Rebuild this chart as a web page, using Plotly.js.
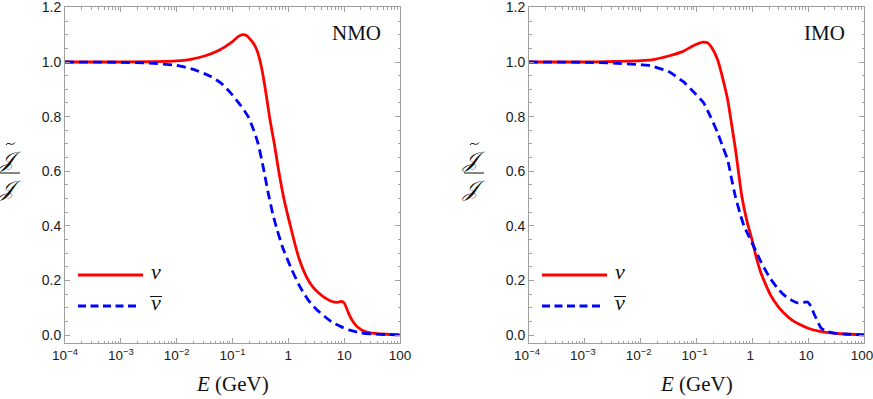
<!DOCTYPE html>
<html>
<head>
<meta charset="utf-8">
<script src="https://cdn.plot.ly/plotly-3.0.1.min.js"></script>
<style>html,body{margin:0;padding:0;background:#fff;}#chart{width:873px;height:399px;}</style>
</head>
<body>
<div id="chart"></div>
<script>
// ---- Data (log10 of energy in GeV, and flux ratio) ----
const nmoNuLogE  = [-4,-3,-2.5,-2,-1.75,-1.5,-1.25,-1.0,-0.9,-0.82,-0.75,-0.68,-0.6,-0.54,-0.47,-0.4,-0.33,-0.25,-0.18,-0.08,0.0,0.11,0.2,0.32,0.43,0.54,0.65,0.77,0.88,0.95,1.0,1.04,1.09,1.14,1.22,1.32,1.45,1.55,1.75,2];
const nmoNuVal   = [1.0,1.0,1.001,1.004,1.01,1.022,1.042,1.075,1.093,1.10,1.097,1.083,1.06,1.03,0.97,0.885,0.79,0.70,0.61,0.50,0.43,0.34,0.275,0.215,0.178,0.155,0.137,0.124,0.12,0.123,0.118,0.10,0.075,0.055,0.033,0.018,0.009,0.006,0.003,0.001];
const nmoNubLogE = [-4,-3,-2.5,-2,-1.7,-1.4,-1.2,-1.03,-0.85,-0.72,-0.62,-0.54,-0.45,-0.36,-0.28,-0.2,-0.1,0.05,0.2,0.35,0.5,0.65,0.8,0.95,1.1,1.3,1.5,1.75,2];
const nmoNubVal  = [1.0,0.999,0.996,0.988,0.973,0.948,0.922,0.886,0.84,0.80,0.75,0.70,0.615,0.52,0.445,0.385,0.32,0.245,0.18,0.13,0.095,0.068,0.045,0.03,0.018,0.008,0.004,0.002,0.001];

const imoNuLogE  = [-4,-3,-2.5,-2,-1.75,-1.5,-1.25,-1.1,-1.0,-0.89,-0.8,-0.72,-0.62,-0.53,-0.44,-0.37,-0.3,-0.25,-0.19,-0.1,0.0,0.07,0.15,0.25,0.33,0.45,0.56,0.7,0.87,1.0,1.17,1.4,1.64,2];
const imoNuVal   = [1.0,1.0,1.002,1.005,1.01,1.022,1.038,1.055,1.065,1.073,1.07,1.05,1.007,0.94,0.86,0.77,0.678,0.60,0.51,0.42,0.345,0.285,0.23,0.18,0.145,0.108,0.082,0.057,0.037,0.025,0.015,0.008,0.004,0.001];
const imoNubLogE = [-4,-3,-2.5,-2,-1.83,-1.5,-1.23,-1.05,-0.87,-0.75,-0.62,-0.53,-0.44,-0.37,-0.3,-0.22,-0.15,-0.07,0.0,0.07,0.15,0.25,0.33,0.45,0.56,0.7,0.81,0.9,0.99,1.05,1.1,1.17,1.23,1.33,1.46,1.7,2];
const imoNubVal  = [1.0,0.999,0.996,0.99,0.987,0.965,0.927,0.89,0.85,0.80,0.74,0.69,0.64,0.57,0.505,0.445,0.40,0.365,0.335,0.305,0.27,0.232,0.205,0.172,0.148,0.128,0.118,0.119,0.121,0.105,0.08,0.05,0.026,0.014,0.007,0.003,0.001];

const xTickVals = [1e-4,1e-3,1e-2,1e-1,1,10,100];
const xTickText = ['10<sup>−4</sup>','10<sup>−3</sup>','10<sup>−2</sup>','10<sup>−1</sup>','1','10','100'];
const yTickVals = [0,0.2,0.4,0.6,0.8,1.0,1.2];
const yTickText = ['0.0','0.2','0.4','0.6','0.8','1.0','1.2'];
const panelLabels = ['NMO','IMO'];
const legendLabels = ['<i>ν</i>','<i>ν</i>'];

// ---- build ----
const W = 873, H = 399;
const px = v => v / W;
const py = v => 1 - v / H;
const toE = a => a.map(v => Math.pow(10, v));

const RED = '#ff0000', BLUE = '#0000ff';
const redLine = {color: RED, width: 2.8, shape: 'spline', smoothing: 0.5};
const blueLine = {color: BLUE, width: 2.8, dash: '9px,5px', shape: 'spline', smoothing: 0.5};

const traces = [
  {x: toE(nmoNuLogE), y: nmoNuVal, xaxis: 'x', yaxis: 'y', mode: 'lines', line: redLine, showlegend: false, hoverinfo: 'skip'},
  {x: toE(nmoNubLogE), y: nmoNubVal, xaxis: 'x', yaxis: 'y', mode: 'lines', line: blueLine, showlegend: false, hoverinfo: 'skip'},
  {x: toE(imoNuLogE), y: imoNuVal, xaxis: 'x2', yaxis: 'y2', mode: 'lines', line: redLine, showlegend: false, hoverinfo: 'skip'},
  {x: toE(imoNubLogE), y: imoNubVal, xaxis: 'x2', yaxis: 'y2', mode: 'lines', line: blueLine, showlegend: false, hoverinfo: 'skip'}
];

const minorX = [];
for (let d = -4; d < 2; d++) for (let k = 2; k <= 9; k++) minorX.push(k * Math.pow(10, d));

const AX = '#a0a0a0';
const tickFont = {family: 'Liberation Sans, Arial, sans-serif', size: 14, color: '#1a1a1a'};
const xTickFont = {family: 'Liberation Sans, Arial, sans-serif', size: 13.5, color: '#1a1a1a'};
function xAxis(domain, anchor, shift) {
  return {
    type: 'log', range: [-4, 2], domain: domain, anchor: anchor,
    showline: true, linecolor: AX, linewidth: 1, mirror: 'allticks',
    ticks: 'inside', ticklen: 5, tickcolor: AX, tickwidth: 1,
    tickmode: 'array', tickvals: xTickVals, ticktext: xTickText,
    tickfont: xTickFont, ticklabeloverflow: 'allow', ticklabelshift: shift,
    showgrid: false, zeroline: false, fixedrange: true,
    minor: {ticks: 'inside', ticklen: 2.5, tickcolor: AX, tickwidth: 1, tickmode: 'array', tickvals: minorX, showgrid: false}
  };
}
function yAxis(anchor) {
  return {
    range: [-0.029, 1.2015], domain: [py(343), py(7)], anchor: anchor,
    showline: true, linecolor: AX, linewidth: 1, mirror: 'allticks',
    ticks: 'inside', ticklen: 5, tickcolor: AX, tickwidth: 1,
    tickmode: 'array', tickvals: yTickVals, ticktext: yTickText,
    tickfont: tickFont, ticklabeloverflow: 'allow',
    showgrid: false, zeroline: false, fixedrange: true,
    minor: {ticks: 'inside', ticklen: 2.5, tickcolor: AX, tickwidth: 1, dtick: 0.05, tick0: 0, showgrid: false}
  };
}

const annotations = [];
const shapes = [];
const panels = [
  {left: 65, right: 400, label: panelLabels[0], labelRight: 383},
  {left: 529, right: 864, label: panelLabels[1], labelRight: 847}
];
const serif = 'Liberation Serif, Times New Roman, serif';
panels.forEach(p => {
  annotations.push({xref: 'paper', yref: 'paper', x: px(p.labelRight), y: py(33), xanchor: 'right', yanchor: 'middle',
    text: p.label, showarrow: false, font: {family: serif, size: 21, color: '#111'}});
  annotations.push({xref: 'paper', yref: 'paper', x: px((p.left + p.right) / 2), y: py(384), xanchor: 'center', yanchor: 'middle',
    text: '<i>E</i> (GeV)', showarrow: false, font: {family: serif, size: 21, color: '#111'}});
  // y label fraction
  const cx = p.left - 55;
  annotations.push({xref: 'paper', yref: 'paper', x: px(cx), y: py(159), xanchor: 'center', yanchor: 'middle',
    text: '<i>𝒥</i>', showarrow: false, font: {family: 'DejaVu Serif, serif', size: 22, color: '#111'}});
  annotations.push({xref: 'paper', yref: 'paper', x: px(cx), y: py(189), xanchor: 'center', yanchor: 'middle',
    text: '<i>𝒥</i>', showarrow: false, font: {family: 'DejaVu Serif, serif', size: 22, color: '#111'}});
  // tilde accent
  shapes.push({type: 'path', xref: 'paper', yref: 'paper',
    path: `M ${px(cx - 4)},${py(145)} C ${px(cx - 1.5)},${py(140.5)} ${px(cx + 1.5)},${py(147.5)} ${px(cx + 5)},${py(142.5)}`,
    line: {color: '#111', width: 1}});
  // fraction bar
  shapes.push({type: 'line', xref: 'paper', yref: 'paper', x0: px(cx - 10), x1: px(cx + 10), y0: py(173), y1: py(173),
    line: {color: '#111', width: 1}});
  // legend
  const lx0 = p.left + 13;
  shapes.push({type: 'line', xref: 'paper', yref: 'paper', x0: px(lx0), x1: px(lx0 + 65), y0: py(275), y1: py(275),
    line: {color: RED, width: 2.8}});
  shapes.push({type: 'line', xref: 'paper', yref: 'paper', x0: px(lx0), x1: px(lx0 + 62), y0: py(306), y1: py(306),
    line: {color: BLUE, width: 2.8, dash: '8px,4.5px'}});
  annotations.push({xref: 'paper', yref: 'paper', x: px(lx0 + 71), y: py(271), xanchor: 'left', yanchor: 'middle',
    text: legendLabels[0], showarrow: false, font: {family: serif, size: 22, color: '#111'}});
  annotations.push({xref: 'paper', yref: 'paper', x: px(lx0 + 71), y: py(302), xanchor: 'left', yanchor: 'middle',
    text: legendLabels[1], showarrow: false, font: {family: serif, size: 22, color: '#111'}});
  // overline for anti-neutrino
  shapes.push({type: 'line', xref: 'paper', yref: 'paper', x0: px(lx0 + 72), x1: px(lx0 + 84), y0: py(296.5), y1: py(296.5),
    line: {color: '#111', width: 1}});
});

const layout = {
  width: W, height: H,
  margin: {l: 0, r: 0, t: 0, b: 0, pad: 0},
  paper_bgcolor: '#fff', plot_bgcolor: '#fff',
  showlegend: false,
  xaxis: xAxis([px(65), px(400)], 'y', 0),
  yaxis: yAxis('x'),
  xaxis2: xAxis([px(529), px(864)], 'y2', -2),
  yaxis2: yAxis('x2'),
  annotations: annotations,
  shapes: shapes
};

Plotly.newPlot('chart', traces, layout, {staticPlot: true, displayModeBar: false});
</script>
</body>
</html>
